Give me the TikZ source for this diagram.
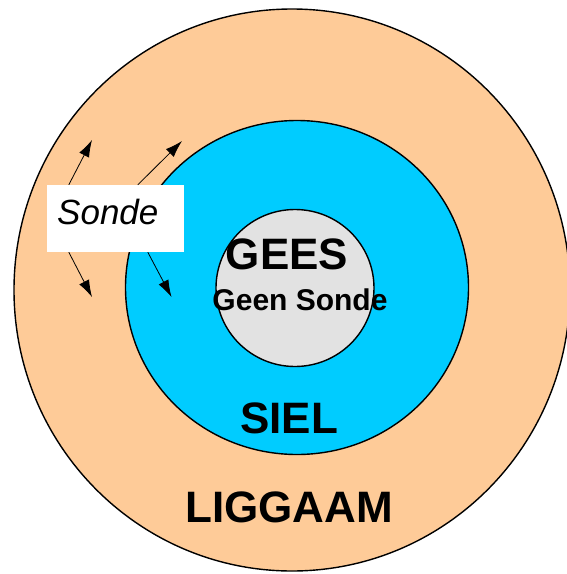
\documentclass[tikz,border=0pt]{standalone}
\usepackage{fontspec}
\setmainfont{Liberation Sans}
\usepackage{xcolor}
\usetikzlibrary{arrows.meta}
\definecolor{liggaam}{HTML}{FECB98}
\definecolor{siel}{HTML}{00CCFF}
\definecolor{gees}{HTML}{E2E2E2}

\begin{document}
\begin{tikzpicture}[x=1pt, y=-1pt,
		laag/.style={draw=black, line width=1.4pt},
		pyl/.style={-{Latex[length=17pt, width=11pt]}, line width=0.8pt},
		etiket/.style={font=\bfseries\fontsize{44}{44}\selectfont, anchor=base}]
				\useasboundingbox (0,0) rectangle (566,574);
				\fill[liggaam, laag] (292,290) ellipse [x radius=278, y radius=281];
				\fill[siel, laag] (297,287.5) ellipse [x radius=171.5, y radius=167];
				\fill[gees, laag] (295,288) ellipse [x radius=79, y radius=78.5];
				\node[etiket] (gees) at (287,269) {GEES};
				\node[anchor=base, font=\bfseries\fontsize{30}{30}\selectfont] (geen) at (300,310) {Geen Sonde};
				\node[etiket] (siel) at (289,433) {SIEL};
				\node[etiket] (liggaam) at (289,522) {LIGGAAM};
				\node[fill=white, minimum width=137pt, minimum height=67pt, inner sep=0pt] (sonde) at (115.5,218.5) {};
				\node[anchor=base west, font=\itshape\fontsize{35}{35}\selectfont, inner sep=0pt] (sondetxt) at (57,224.6) {Sonde};
				\coordinate (p1) at (92,140);
				\coordinate (p2) at (182,141);
				\coordinate (p3) at (92,297);
				\coordinate (p4) at (171.5,297);
				\draw[pyl] ([xshift=22pt]sonde.north west) -- (p1);
				\draw[pyl] ([xshift=91pt]sonde.north west) -- (p2);
				\draw[pyl] ([xshift=22pt]sonde.south west) -- (p3);
				\draw[pyl] ([xshift=101pt]sonde.south west) -- (p4);
			\end{tikzpicture}
\end{document}
